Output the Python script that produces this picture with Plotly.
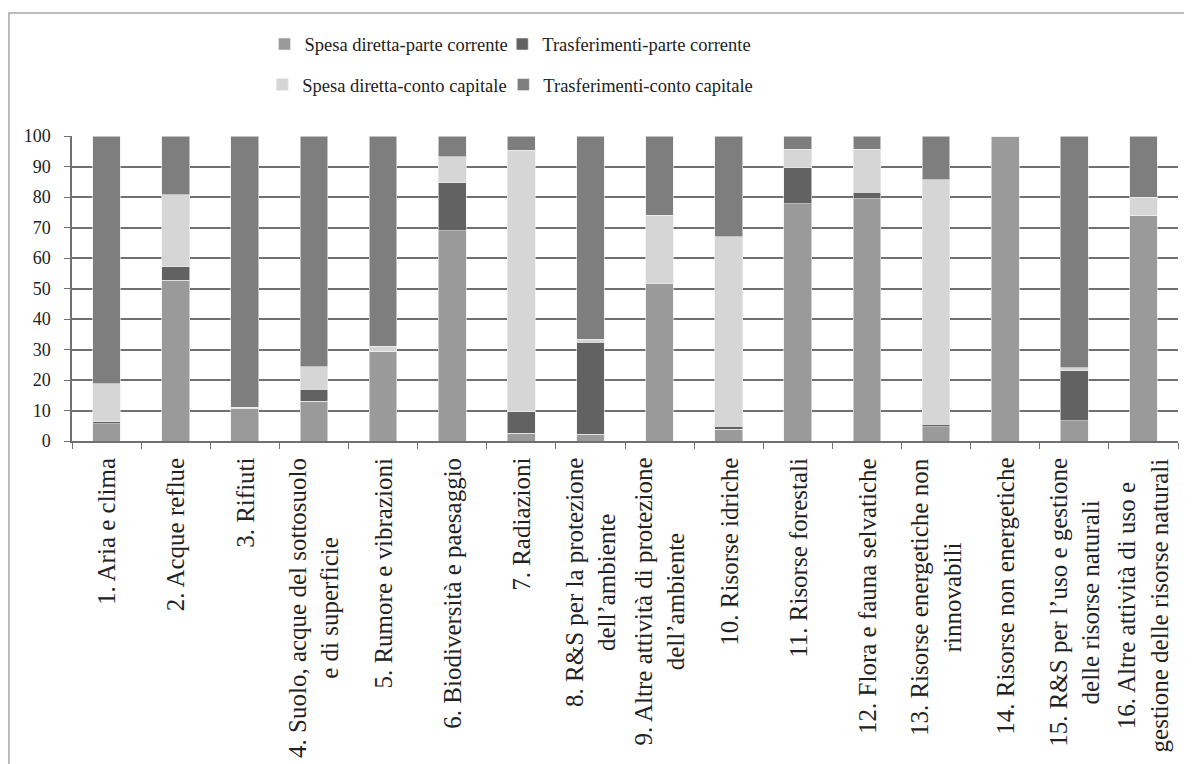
import plotly.graph_objects as go

# categories (x axis)
categorie = [
    "1. Aria e clima",
    "2. Acque reflue",
    "3. Rifiuti",
    "4. Suolo, acque del sottosuolo<br>e di superficie",
    "5. Rumore e vibrazioni",
    "6. Biodiversità e paesaggio",
    "7. Radiazioni",
    "8. R&S per la protezione<br>dell’ambiente",
    "9. Altre attività di protezione<br>dell’ambiente",
    "10. Risorse idriche",
    "11. Risorse forestali",
    "12. Flora e fauna selvatiche",
    "13. Risorse energetiche non<br>rinnovabili",
    "14. Risorse non energetiche",
    "15. R&S per l’uso e gestione<br>delle risorse naturali",
    "16. Altre attività di uso e<br>gestione delle risorse naturali",
]

# series values (percent)
spesa_corrente = [5.7, 52.7, 10.6, 13.1, 29.5, 69.0, 2.5, 2.2, 51.6, 3.8, 77.8, 79.5, 4.6, 100.0, 6.6, 74.0]
trasf_corrente = [0.6, 4.5, 0.0, 3.9, 0.0, 15.6, 7.1, 30.2, 0.0, 1.1, 11.8, 2.0, 0.9, 0.0, 16.5, 0.0]
spesa_capitale = [12.5, 23.5, 0.5, 7.3, 1.5, 8.6, 85.8, 0.9, 22.4, 62.1, 6.0, 14.1, 80.2, 0.0, 0.9, 5.9]
trasf_capitale = [81.2, 19.3, 88.9, 75.7, 69.0, 6.8, 4.6, 66.7, 26.0, 33.0, 4.4, 4.4, 14.3, 0.0, 76.0, 20.1]

y_ticks = [0, 10, 20, 30, 40, 50, 60, 70, 80, 90, 100]

serif = "Liberation Serif, Times New Roman, serif"

fig = go.Figure()

# one legend box per entry, laid out as 2 x 2 like the original
series = [
    ("Spesa diretta-parte corrente", spesa_corrente, "#9a9a9a", "legend"),
    ("Trasferimenti-parte corrente", trasf_corrente, "#626262", "legend2"),
    ("Spesa diretta-conto capitale", spesa_capitale, "#d6d6d6", "legend3"),
    ("Trasferimenti-conto capitale", trasf_capitale, "#7e7e7e", "legend4"),
]
for name, vals, col, leg in series:
    fig.add_trace(go.Bar(x=categorie, y=vals, name=name, legend=leg, showlegend=True,
                         marker=dict(color=col, line=dict(color="#eeeeee", width=0.6))))

# rotated, centred category labels
for cat in categorie:
    fig.add_annotation(x=cat, xref="x", y=0, yref="paper", yshift=-15,
                       text=cat, textangle=-90, showarrow=False,
                       xanchor="center", yanchor="top", align="center",
                       font=dict(family=serif, size=25, color="#222222"))

# outer frame of the original figure
fig.add_shape(type="rect", xref="paper", yref="paper",
              x0=-0.057, x1=1.2, y0=-2.0, y1=1.403,
              line=dict(color="#a8a8a8", width=1.5), layer="below")

leg_font = dict(family=serif, size=18.5, color="#222222")
legend_pos = {"legend": (0.174, 1.30), "legend2": (0.389, 1.30),
              "legend3": (0.172, 1.167), "legend4": (0.390, 1.167)}
legends = {}
for key, (lx, ly) in legend_pos.items():
    legends[key] = dict(orientation="h", x=lx, y=ly, xanchor="left", yanchor="middle",
                        font=leg_font, bgcolor="rgba(0,0,0,0)", itemwidth=30)

# page body has an 8px margin, so the figure is 8px smaller and shifted
fig.update_layout(
    barmode="stack",
    bargap=0.6,
    showlegend=True,
    width=1184, height=756,
    margin=dict(l=64, r=14, t=128, b=323),
    paper_bgcolor="white",
    plot_bgcolor="white",
    font=dict(family=serif, size=17, color="#222222"),
    xaxis=dict(showticklabels=False, tickson="boundaries", ticks="outside",
               ticklen=6, tickcolor="#707070", showline=True, linecolor="#707070",
               linewidth=1.5, showgrid=False),
    yaxis=dict(range=[0, 100], tickvals=y_ticks, ticks="outside", ticklen=6,
               tickcolor="#707070", showline=True, linecolor="#707070", linewidth=1.5,
               gridcolor="#707070", gridwidth=1.8, zeroline=False, ticklabelstandoff=10,
               tickfont=dict(family=serif, size=18, color="#222222")),
    **legends,
)

fig.write_html("out.html")
